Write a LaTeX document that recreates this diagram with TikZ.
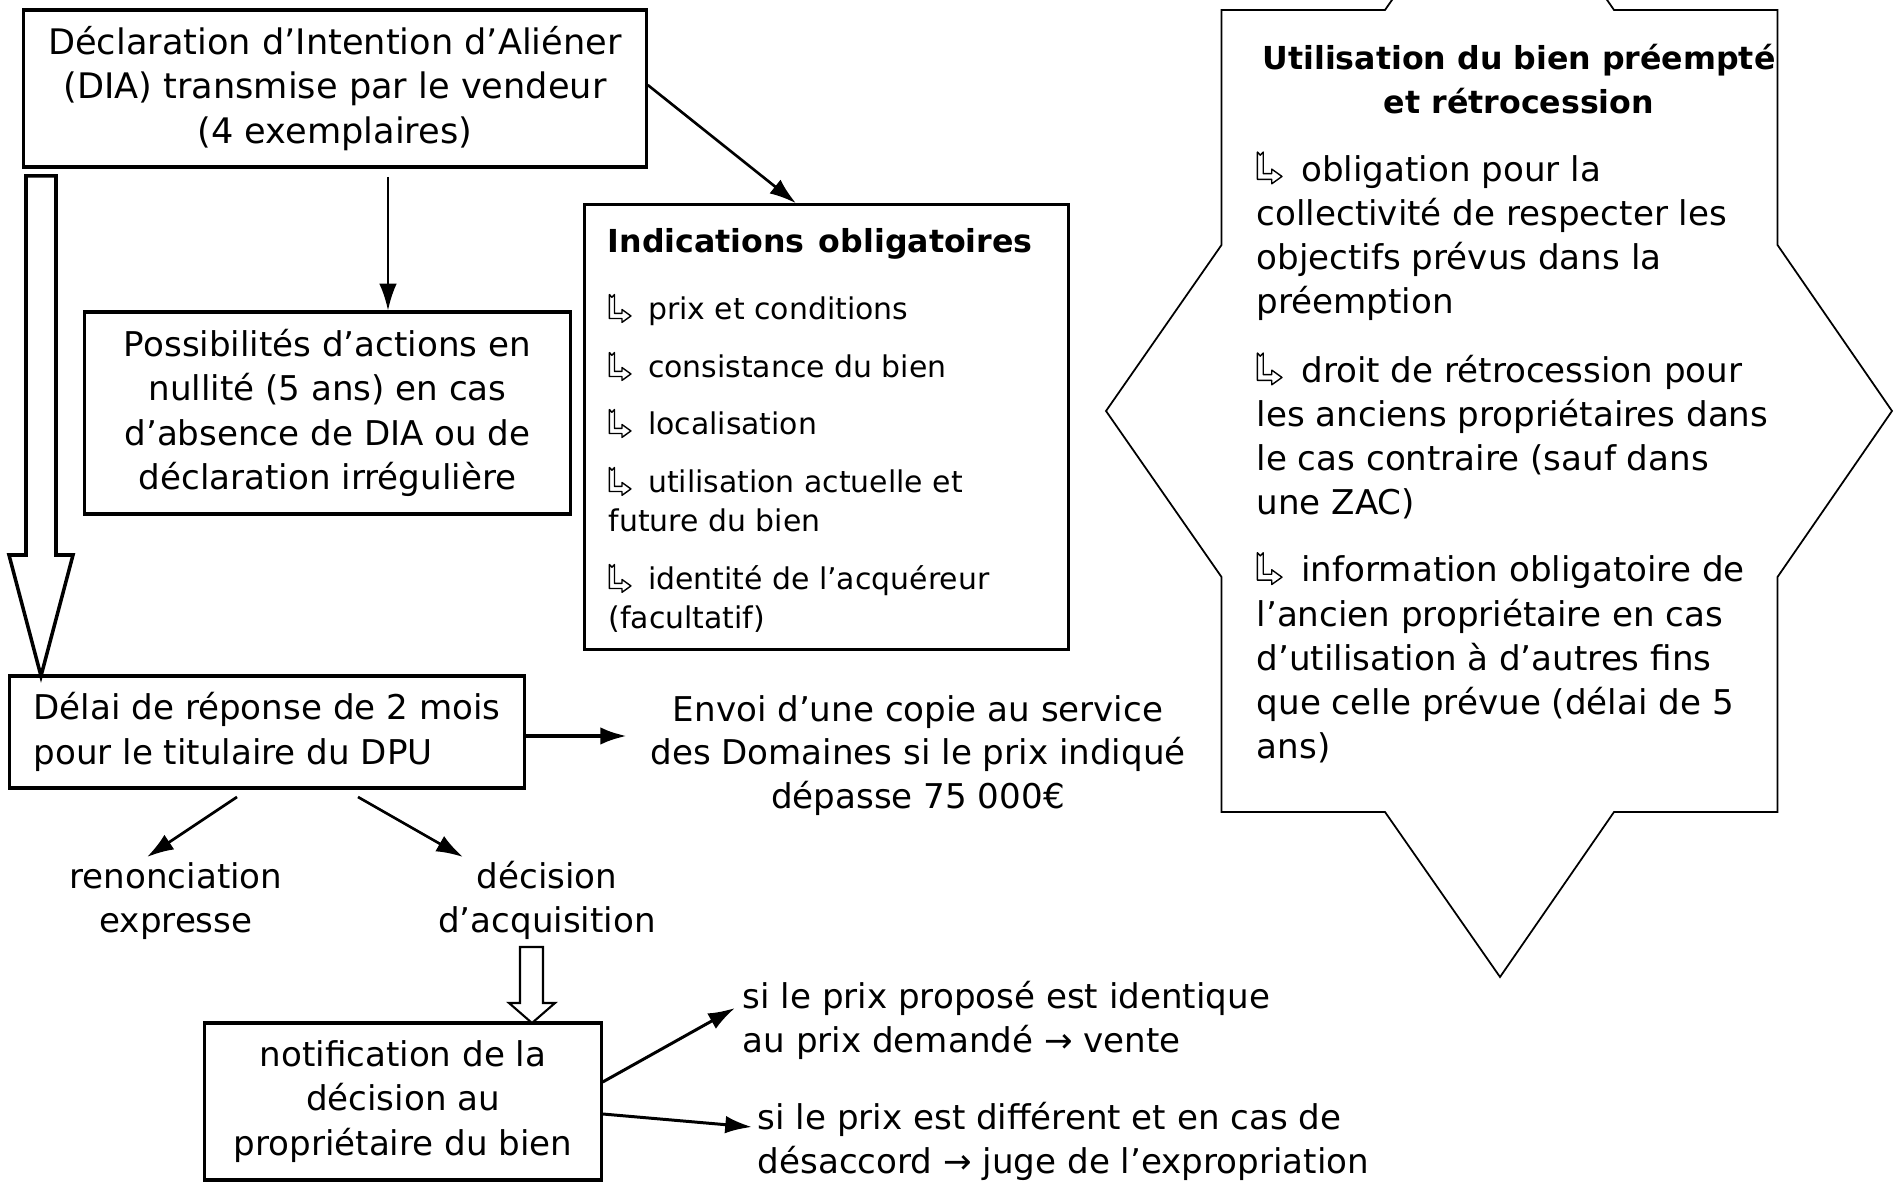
\documentclass[tikz,border=0pt]{standalone}
\usepackage{fontspec}
\setmainfont{DejaVu Sans}
\usetikzlibrary{arrows.meta}
\newcommand\harr{\tikz[baseline=0pt,x=1em,y=1em]\draw[line width=0.4pt,line join=round]
  (0,0.85) -- (0,0.05) -- (0.42,0.05) -- (0.42,-0.08) -- (0.72,0.135) -- (0.42,0.35)
  -- (0.42,0.22) -- (0.17,0.22) -- (0.17,0.85) -- (0.085,0.76) -- cycle;\hspace{0.55em}}
\begin{document}
\begin{tikzpicture}[x=0.01cm,y=-0.01cm,
  box/.style={draw, line width=0.9pt, inner sep=0pt, font=\fontsize{9.7}{12.6}\selectfont, align=center},
  txt/.style={inner sep=0pt, font=\fontsize{9.7}{12.6}\selectfont},
  small/.style={inner sep=0pt, font=\fontsize{8.5}{11.1}\selectfont, align=left, anchor=base west},
  conn/.style={line width=0.75pt, -{Latex[length=7.6pt,width=5pt]}},
  connb/.style={line width=0.85pt, -{Latex[length=7.6pt,width=5pt]}},
  hollow/.style={draw, line width=1pt, fill=white},
  starline/.style={draw, line width=0.5pt}]
\useasboundingbox (0,0) rectangle (1894,1183);
\clip (0,0) rectangle (1894,1183);

% boxes
\node[box, font=\fontsize{10}{12.6}\selectfont, minimum width=6.22cm, minimum height=1.57cm] (dia) at (335,88.5)
  {Déclaration d’Intention d’Aliéner\\(DIA) transmise par le vendeur\\(4 exemplaires)};
\node[box, minimum width=4.85cm, minimum height=2.02cm] (poss) at (327.5,413)
  {Possibilités d’actions en\\nullité (5 ans) en cas\\d’absence de DIA ou de\\déclaration irrégulière};
\node[box, minimum width=4.83cm, minimum height=4.44cm] (ind) at (826.5,427) {};
\node[box, align=left, minimum width=5.14cm, minimum height=1.12cm] (delai) at (267,732)
  {Délai de réponse de 2 mois\\pour le titulaire du DPU};
\node[box, minimum width=3.96cm, minimum height=1.57cm] (notif) at (403,1101.5)
  {notification de la\\décision au\\propriétaire du bien};

% Indications text
\node[inner sep=0pt, anchor=base west, font=\bfseries\fontsize{9}{11}\selectfont] (indt) at (607,253) {Indications\hspace{0.45em}obligatoires};
\node[small] (i1) at (608,320) {\harr prix et conditions};
\node[small] (i2) at (608,378) {\harr consistance du bien};
\node[small] (i3) at (608,435) {\harr localisation};
\node[small] (i4) at (608,532) {\harr utilisation actuelle et\\future du bien};
\node[small] (i5) at (608,629) {\harr identité de l’acquéreur\\(facultatif)};

% big hollow arrow
\draw[hollow] (26,176) -- (56,176) -- (56,555) -- (73,555) -- (41,676) -- (9,555) -- (26,555) -- cycle;
% small hollow arrow
\draw[hollow, line width=0.6pt] (520,947) -- (543,947) -- (543,1003) -- (555,1003) -- (532,1023) -- (509,1003) -- (520,1003) -- cycle;

% star
\draw[starline] (1221.5,10) -- (1385,10) -- (1500,-155) -- (1614,10) -- (1777.5,10) -- (1777.5,245)
  -- (1892,411) -- (1777.5,577) -- (1777.5,812) -- (1614,812) -- (1500,977) -- (1385,812)
  -- (1221.5,812) -- (1221.5,577) -- (1106,411) -- (1221.5,245) -- cycle;
\node[inner sep=0pt, anchor=base, align=center, font=\bfseries\fontsize{9}{12.7}\selectfont] (stitle) at (1519,114)
  {Utilisation du bien préempté\\et rétrocession};
\node[txt, align=left, anchor=base west] (s1) at (1256,314)
  {\harr obligation pour la\\collectivité de respecter les\\objectifs prévus dans la\\préemption};
\node[txt, align=left, anchor=base west] (s2) at (1256,515)
  {\harr droit de rétrocession pour\\les anciens propriétaires dans\\le cas contraire (sauf dans\\une ZAC)};
\node[txt, align=left, anchor=base west] (s3) at (1256,759)
  {\harr information obligatoire de\\l’ancien propriétaire en cas\\d’utilisation à d’autres fins\\que celle prévue (délai de 5\\ans)};

% free texts
\node[txt, font=\fontsize{9.7}{12.4}\selectfont, align=center, anchor=base] (envoi) at (918,808.5)
  {Envoi d’une copie au service\\des Domaines si le prix indiqué\\dépasse 75 000€};
\node[txt, align=center, anchor=base] (ren) at (176,932.5) {renonciation\\expresse};
\node[txt, align=center, anchor=base] (dec) at (547,932.5) {décision\\d’acquisition};
\node[txt, align=left, anchor=base west] (si1) at (742,1052.5)
  {si le prix proposé est identique\\au prix demandé → vente};
\node[txt, align=left, anchor=base west] (si2) at (757,1173.5)
  {si le prix est différent et en cas de\\désaccord → juge de l’expropriation};

% connectors
\coordinate (dpA) at (388,177);
\draw[conn, line width=0.6pt] (dpA) -- (poss.north -| dpA);
\draw[conn] (dia.east |- 0,85) -- (ind.north -| 796,0);
\coordinate (envA) at (627,736);
\draw[connb, line width=1.15pt] (delai.east |- envA) -- (envA);
\coordinate (renA) at (237,797);
\coordinate (renB) at (147,857);
\draw[conn] (renA) -- (renB);
\coordinate (decA) at (358,797);
\coordinate (decB) at (463,857);
\draw[conn] (decA) -- (decB);
\coordinate (siA) at (735,1008);
\coordinate (siB) at (752,1127);
\draw[connb] (notif.east |- 0,1082) -- (siA);
\draw[connb] (notif.east |- 0,1114) -- (siB);
\end{tikzpicture}
\end{document}
